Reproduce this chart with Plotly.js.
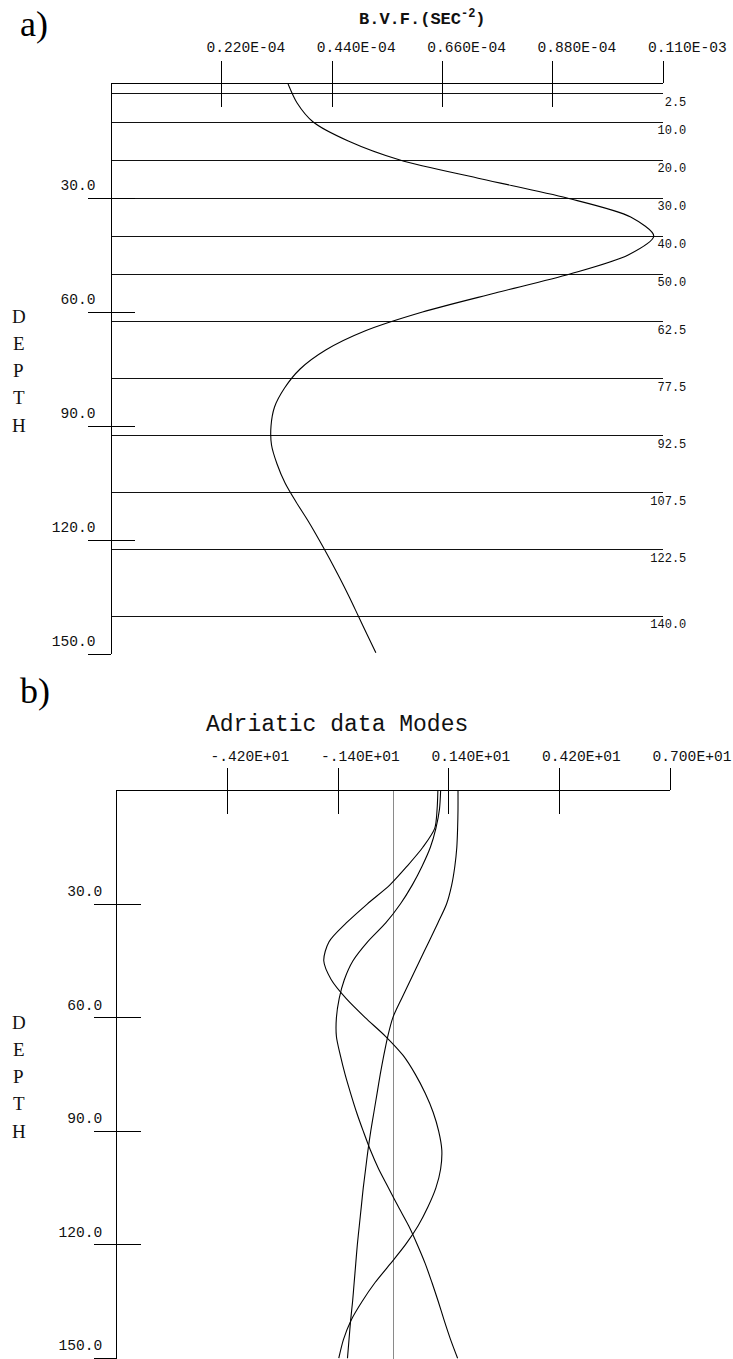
<!DOCTYPE html>
<html><head><meta charset="utf-8">
<script src="https://cdn.plot.ly/plotly-3.0.1.min.js"></script>
<style>html,body{margin:0;padding:0;background:#fff;}#chart{width:733px;height:1359px;}</style>
</head><body><div id="chart"></div>
<script>
// ---------- Panel a: Brunt-Vaisala frequency profile ----------
const bvfDepth = [0, 5, 10, 15, 20, 25, 30, 35, 40, 45, 50, 55, 60, 65, 70, 75, 80, 85, 90, 95, 100, 105, 110, 115, 120, 125, 130, 135, 140, 145, 149.7];
const bvfValue = [3.52e-5, 3.70e-5, 4.02e-5, 4.72e-5, 5.75e-5, 7.38e-5, 9.08e-5, 10.35e-5, 10.81e-5, 10.30e-5, 9.14e-5, 7.65e-5, 6.20e-5, 5.05e-5, 4.27e-5, 3.76e-5, 3.45e-5, 3.25e-5, 3.18e-5, 3.19e-5, 3.30e-5, 3.46e-5, 3.68e-5, 3.92e-5, 4.14e-5, 4.35e-5, 4.55e-5, 4.74e-5, 4.92e-5, 5.10e-5, 5.27e-5];
const levelDepths = [2.5, 10, 20, 30, 40, 50, 62.5, 77.5, 92.5, 107.5, 122.5, 140];
const levelLabels = ["2.5", "10.0", "20.0", "30.0", "40.0", "50.0", "62.5", "77.5", "92.5", "107.5", "122.5", "140.0"];
const bvfTickVals = [2.2e-5, 4.4e-5, 6.6e-5, 8.8e-5, 1.1e-4];
const bvfTickText = ["0.220E-04", "0.440E-04", "0.660E-04", "0.880E-04", "0.110E-03"];
const depthTickVals = [30, 60, 90, 120, 150];
const depthTickText = ["30.0", "60.0", "90.0", "120.0", "150.0"];

// ---------- Panel b: Adriatic data modes ----------
const modeTickVals = [-4.2, -1.4, 1.4, 4.2, 7.0];
const modeTickText = ["-.420E+01", "-.140E+01", "0.140E+01", "0.420E+01", "0.700E+01"];
const modeDepth = [0, 5, 10, 15, 20, 25, 30, 35, 40, 45, 50, 55, 60, 65, 70, 75, 80, 85, 90, 95, 100, 105, 110, 115, 120, 125, 130, 135, 140, 145, 150];
const modeAValue = [1.63, 1.63, 1.62, 1.60, 1.55, 1.47, 1.34, 1.12, 0.89, 0.66, 0.43, 0.20, -0.02, -0.15, -0.25, -0.34, -0.42, -0.50, -0.58, -0.65, -0.71, -0.77, -0.82, -0.87, -0.92, -0.96, -1.00, -1.04, -1.09, -1.13, -1.17];
const modeBValue = [1.19, 1.16, 1.07, 0.93, 0.72, 0.47, 0.17, -0.20, -0.66, -1.03, -1.25, -1.38, -1.45, -1.45, -1.35, -1.23, -1.09, -0.94, -0.77, -0.59, -0.38, -0.13, 0.12, 0.38, 0.60, 0.80, 0.97, 1.13, 1.28, 1.44, 1.62];
const modeCValue = [1.12, 1.10, 1.04, 0.74, 0.34, -0.10, -0.67, -1.20, -1.64, -1.77, -1.58, -1.20, -0.72, -0.20, 0.24, 0.55, 0.80, 1.00, 1.14, 1.22, 1.19, 1.07, 0.87, 0.62, 0.30, -0.08, -0.47, -0.80, -1.08, -1.27, -1.39];

const W = 733, H = 1359;
const px = v => v / W;            // layout helpers (pixel -> paper)
const py = v => 1 - v / H;

const mono = 'Liberation Mono, Courier New, monospace';
const serif = 'Liberation Serif, Times New Roman, serif';
const tickFont = {family: mono, size: 14.6, color: '#111'};

const lineStyle = {color: '#000', width: 1.1, shape: 'spline', smoothing: 0.8};
const traces = [
  {x: bvfValue, y: bvfDepth, xaxis: 'x', yaxis: 'y', mode: 'lines', line: lineStyle, hoverinfo: 'skip', showlegend: false},
  {x: modeAValue, y: modeDepth, xaxis: 'x2', yaxis: 'y2', mode: 'lines', line: lineStyle, hoverinfo: 'skip', showlegend: false},
  {x: modeBValue, y: modeDepth, xaxis: 'x2', yaxis: 'y2', mode: 'lines', line: lineStyle, hoverinfo: 'skip', showlegend: false},
  {x: modeCValue, y: modeDepth, xaxis: 'x2', yaxis: 'y2', mode: 'lines', line: lineStyle, hoverinfo: 'skip', showlegend: false}
];
// empty carriers so that the overlaying axes (inside ticks, level lines) are drawn
[['x3', 'y'], ['x', 'y3'], ['x', 'y5'], ['x4', 'y2'], ['x2', 'y4']].forEach(p => {
  traces.push({x: [], y: [], xaxis: p[0], yaxis: p[1], mode: 'lines', hoverinfo: 'skip', showlegend: false});
});

const aX = [px(111.5), px(663.3)], aY = [py(654), py(84)];
const bX = [px(117.3), px(670)], bY = [0, py(790.5)];

const baseAxis = {showgrid: false, zeroline: false, linecolor: '#000', linewidth: 1, tickcolor: '#000', tickwidth: 1, fixedrange: true};
const nb = '\u00a0';
const padded = levelLabels.map(s => nb.repeat(Math.max(0, 5 - s.length)) + s);

const layout = {
  width: W, height: H,
  margin: {l: 0, r: 0, t: 0, b: 0},
  paper_bgcolor: '#fff', plot_bgcolor: 'rgba(0,0,0,0)',
  showlegend: false,
  // panel a
  xaxis: Object.assign({}, baseAxis, {domain: aX, anchor: 'y', side: 'top', range: [0, 1.1e-4], showline: true,
    ticks: 'outside', ticklen: 22, tickmode: 'array', tickvals: bvfTickVals, ticktext: bvfTickText,
    tickfont: tickFont, ticklabelshift: 24, ticklabelstandoff: 3}),
  xaxis3: Object.assign({}, baseAxis, {overlaying: 'x', anchor: 'y', side: 'top', range: [0, 1.1e-4], showline: false,
    ticks: 'inside', ticklen: 23, tickmode: 'array', tickvals: bvfTickVals, showticklabels: false}),
  yaxis: Object.assign({}, baseAxis, {domain: aY, anchor: 'x', side: 'left', range: [150, 0], showline: true,
    ticks: 'outside', ticklen: 23, tickmode: 'array', tickvals: depthTickVals, ticktext: depthTickText,
    tickfont: tickFont, ticklabelshift: 13, ticklabelstandoff: -11}),
  yaxis3: Object.assign({}, baseAxis, {overlaying: 'y', anchor: 'x', side: 'left', range: [150, 0], showline: false,
    ticks: 'inside', ticklen: 23, tickmode: 'array', tickvals: depthTickVals, showticklabels: false}),
  yaxis5: Object.assign({}, baseAxis, {overlaying: 'y', anchor: 'x', side: 'right', range: [150, 0], showline: false,
    showgrid: true, gridcolor: '#111', gridwidth: 1, ticks: '', tickmode: 'array', tickvals: levelDepths, ticktext: padded,
    tickfont: {family: mono, size: 12, color: '#111'}, ticklabelshift: -8, ticklabelstandoff: -14}),
  // panel b
  xaxis2: Object.assign({}, baseAxis, {domain: bX, anchor: 'y2', side: 'top', range: [-7, 7], showline: true,
    zeroline: true, zerolinecolor: '#8a8a8a', zerolinewidth: 1.5,
    ticks: 'outside', ticklen: 22, tickmode: 'array', tickvals: modeTickVals, ticktext: modeTickText,
    tickfont: tickFont, ticklabelshift: 22, ticklabelstandoff: 1}),
  xaxis4: Object.assign({}, baseAxis, {overlaying: 'x2', anchor: 'y2', side: 'top', range: [-7, 7], showline: false,
    ticks: 'inside', ticklen: 23, tickmode: 'array', tickvals: modeTickVals, showticklabels: false}),
  yaxis2: Object.assign({}, baseAxis, {domain: bY, anchor: 'x2', side: 'left', range: [150.2, 0], showline: true,
    ticks: 'outside', ticklen: 22, tickmode: 'array', tickvals: depthTickVals, ticktext: depthTickText,
    tickfont: tickFont, ticklabelshift: 13, ticklabelstandoff: -11}),
  yaxis4: Object.assign({}, baseAxis, {overlaying: 'y2', anchor: 'x2', side: 'left', range: [150.2, 0], showline: false,
    ticks: 'inside', ticklen: 24, tickmode: 'array', tickvals: depthTickVals, showticklabels: false}),
  annotations: []
};

const ann = layout.annotations;
ann.push({xref: 'paper', yref: 'paper', x: px(18), y: py(24), xanchor: 'left', yanchor: 'middle', text: 'a)', showarrow: false,
  font: {family: serif, size: 36, color: '#000'}});
ann.push({xref: 'paper', yref: 'paper', x: px(422), y: py(18), xanchor: 'center', yanchor: 'middle', text: '<b>B.V.F.(SEC<sup>-2</sup>)</b>', showarrow: false,
  font: {family: mono, size: 17, color: '#111'}});
ann.push({xref: 'paper', yref: 'paper', x: px(18), y: py(691), xanchor: 'left', yanchor: 'middle', text: 'b)', showarrow: false,
  font: {family: serif, size: 36, color: '#000'}});
ann.push({xref: 'paper', yref: 'paper', x: px(204), y: py(725), xanchor: 'left', yanchor: 'middle', text: 'Adriatic data Modes', showarrow: false,
  font: {family: mono, size: 23, color: '#111'}});
const word = 'DEPTH';
[316, 1022].forEach(top => {
  for (let i = 0; i < word.length; i++) {
    ann.push({xref: 'paper', yref: 'paper', x: px(18.5), y: py(top + i * 27.3), xanchor: 'center', yanchor: 'middle',
      text: word[i], showarrow: false, font: {family: serif, size: 19, color: '#111'}});
  }
});

Plotly.newPlot('chart', traces, layout, {staticPlot: true, displayModeBar: false});
</script>
</body></html>
